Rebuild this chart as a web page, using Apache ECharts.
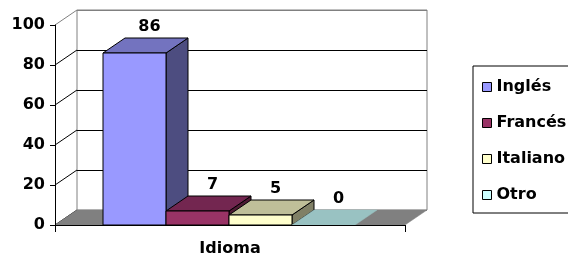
<!DOCTYPE html>
<html>
<head>
<meta charset="utf-8">
<script src="https://cdn.jsdelivr.net/npm/echarts@6/dist/echarts.min.js"></script>
<style>html,body{margin:0;padding:0;background:#fff}#c{width:568px;height:257px}</style>
</head>
<body>
<div id="c"></div>
<script>
const categories = ['Idioma'];
const seriesNames = ['Inglés', 'Francés', 'Italiano', 'Otro'];
const values = [86, 7, 5, 0];
const yTicks = [0, 20, 40, 60, 80, 100];
const frontColors = ['#9999FF', '#993366', '#FFFFCC', '#CCFFFF'];
const topColors = ['#7373BF', '#732650', '#BFBF99', '#99C2C2'];
const sideColors = ['#4D4D80', '#4D1A33', '#808066', '#668080'];

const DX = 22, DY = -15;
const FONT = 'DejaVu Sans';
const chart = echarts.init(document.getElementById('c'), null, {renderer: 'canvas'});

function wallItem(params, api) {
  const v = api.value(1);
  const p = api.coord([0, v]);
  const size = api.size([1, 0]);
  const x0 = p[0] - size[0] / 2;
  const col = v === 100 ? '#808080' : '#000';
  return {
    type: 'line',
    shape: {x1: x0, y1: p[1], x2: x0 + DX, y2: p[1] + DY},
    style: {stroke: col, lineWidth: 1}
  };
}

function floorItem(params, api) {
  const p = api.coord([0, 0]);
  const size = api.size([1, 0]);
  const x0 = p[0] - size[0] / 2, x1 = p[0] + size[0] / 2, y = p[1];
  return {
    type: 'polygon',
    shape: {points: [[x0, y], [x1, y], [x1 + DX, y + DY], [x0 + DX, y + DY]]},
    style: {fill: '#808080', stroke: '#808080', lineWidth: 0.5}
  };
}

function makeBar(i) {
  return function (params, api) {
    const v = api.value(1);
    const base = api.coord([0, 0]);
    const top = api.coord([0, v]);
    const w = api.size([1, 0])[0] * 0.18;
    const x0 = base[0] - 2 * w + i * w - 1;
    const x1 = x0 + w;
    const y0 = base[1], yt = top[1];
    const st = {stroke: '#000', lineWidth: 1, lineJoin: 'round'};
    const children = [];
    if (v > 0) {
      children.push({type: 'polygon', shape: {points: [[x1, yt], [x1 + DX, yt + DY], [x1 + DX, y0 + DY], [x1, y0]]},
        style: Object.assign({fill: sideColors[i]}, st)});
    }
    children.push({type: 'polygon', shape: {points: [[x0, yt], [x0 + DX, yt + DY], [x1 + DX, yt + DY], [x1, yt]]},
      style: Object.assign({fill: topColors[i]}, v > 0 ? st : {stroke: topColors[i], lineWidth: 0.5})});
    if (v > 0) {
      children.push({type: 'rect', shape: {x: x0, y: yt, width: w, height: y0 - yt},
        style: Object.assign({fill: frontColors[i]}, st)});
    }
    children.push({type: 'text', x: (x0 + x1) / 2 + 15, y: yt + DY - 11,
      style: {text: String(v), fill: '#000', font: 'bold 16px "' + FONT + '"', align: 'center', verticalAlign: 'middle'}});
    return {type: 'group', children: children};
  };
}

const series = [
  {type: 'custom', name: '_walls', xAxisIndex: 0, yAxisIndex: 0, z: 2, clip: false, silent: true,
    data: yTicks.map(t => [0, t]), renderItem: wallItem},
  {type: 'custom', name: '_floor', xAxisIndex: 0, yAxisIndex: 0, z: 3, clip: false, silent: true,
    data: [[0, 0]], renderItem: floorItem}
];
seriesNames.forEach((n, i) => {
  series.push({type: 'custom', name: n, xAxisIndex: 0, yAxisIndex: 0, z: 4 + i, clip: false, silent: true,
    itemStyle: {color: frontColors[i]},
    data: [[0, values[i]]], renderItem: makeBar(i)});
});

chart.setOption({
  animation: false,
  grid: [
    {left: 55, top: 25, width: 350, height: 200},
    {left: 55 + DX, top: 25 + DY, width: 350, height: 200, show: true, borderColor: '#808080', borderWidth: 1, z: 0}
  ],
  legend: {
    data: seriesNames, orient: 'vertical', left: 473, top: 66,
    padding: [13, 30, 10, 9], itemGap: 20, itemWidth: 9, itemHeight: 9, itemTextGap: 8,
    icon: 'rect', selectedMode: false, borderColor: '#000', borderWidth: 1,
    itemStyle: {borderColor: '#000', borderWidth: 1},
    textStyle: {fontFamily: FONT, fontWeight: 'bold', fontSize: 16, color: '#000'}
  },
  xAxis: [
    {type: 'category', data: categories, gridIndex: 0, z: 10,
      axisLine: {lineStyle: {color: '#000', width: 1}},
      axisTick: {show: true, length: 7, lineStyle: {color: '#000'}},
      axisLabel: {margin: 16, fontFamily: FONT, fontWeight: 'bold', fontSize: 16, color: '#000'}},
    {type: 'category', data: categories, gridIndex: 1, show: false}
  ],
  yAxis: [
    {type: 'value', gridIndex: 0, min: 0, max: 100, interval: 20, z: 10,
      axisLine: {show: true, lineStyle: {color: '#000', width: 1}},
      axisTick: {show: true, length: 5, lineStyle: {color: '#000'}},
      splitLine: {show: false},
      axisLabel: {margin: 10, fontFamily: FONT, fontWeight: 'bold', fontSize: 16, color: '#000'}},
    {type: 'value', gridIndex: 1, min: 0, max: 100, interval: 20,
      axisLine: {show: false}, axisTick: {show: false}, axisLabel: {show: false},
      splitLine: {show: true, lineStyle: {color: ['#808080', '#000', '#000', '#000', '#000', '#808080'], width: 1}}}
  ],
  series: series
});
</script>
</body>
</html>
